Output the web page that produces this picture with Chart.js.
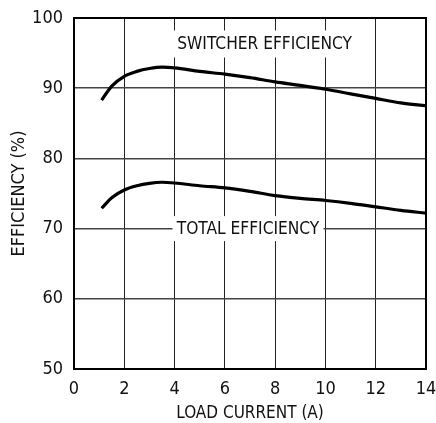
<!DOCTYPE html>
<html>
<head>
<meta charset="utf-8">
<script src="https://cdn.jsdelivr.net/npm/chart.js@4.4.1/dist/chart.umd.min.js"></script>
<style>
  html, body { margin: 0; padding: 0; background: #fff; }
  #wrap { width: 436px; height: 423px; position: relative; }
</style>
</head>
<body>
<div id="wrap"><canvas id="c" width="436" height="423"></canvas></div>
<script>
// ---- data ----
const loadCurrent = [1.1, 1.5, 2, 2.5, 3, 3.5, 4, 5, 6, 7, 8, 9, 10, 11, 12, 13, 14];
const switcherEff = [88.3, 90.3, 91.7, 92.4, 92.8, 93.0, 92.9, 92.4, 92.0, 91.5, 90.9, 90.4, 89.85, 89.2, 88.55, 87.9, 87.5];
const totalEff    = [72.9, 74.4, 75.5, 76.1, 76.45, 76.6, 76.5, 76.1, 75.8, 75.3, 74.7, 74.3, 74.0, 73.6, 73.1, 72.6, 72.2];
const xTicks = [0, 2, 4, 6, 8, 10, 12, 14];
const yTicks = [50, 60, 70, 80, 90, 100];
const curveLabels = ['SWITCHER EFFICIENCY', 'TOTAL EFFICIENCY'];
const xTitle = 'LOAD CURRENT (A)';
const yTitle = 'EFFICIENCY (%)';

// ---- styling / placement ----
const FONT = "'Liberation Sans Narrow', 'DejaVu Sans Condensed', sans-serif";
const labelAnchors = [{x: 7.58, y: 96.3, w: 185, h: 27}, {x: 6.92, y: 70, w: 151, h: 25}];

function toPoints(xs, ys) { return xs.map((x, i) => ({x: x, y: ys[i]})); }

const labelPlugin = {
  id: 'curveLabels',
  beforeDatasetsDraw(chart) {
    const ctx = chart.ctx, xs = chart.scales.x, ys = chart.scales.y;
    ctx.save();
    ctx.font = '17.2px ' + FONT;
    ctx.textAlign = 'center';
    ctx.textBaseline = 'middle';
    curveLabels.forEach((t, i) => {
      const a = labelAnchors[i];
      const px = xs.getPixelForValue(a.x), py = ys.getPixelForValue(a.y);
      ctx.fillStyle = '#fff';
      ctx.fillRect(px - a.w / 2, py - a.h / 2, a.w, a.h);
      ctx.fillStyle = '#111';
      ctx.fillText(t, px, py + 1);
    });
    ctx.restore();
  },
  afterDraw(chart) {
    const ctx = chart.ctx, a = chart.chartArea;
    ctx.save();
    ctx.strokeStyle = '#000';
    ctx.lineWidth = 2;
    ctx.strokeRect(a.left, a.top, a.right - a.left, a.bottom - a.top);
    ctx.restore();
  }
};

new Chart(document.getElementById('c'), {
  type: 'scatter',
  data: {
    datasets: [
      {label: curveLabels[0], data: toPoints(loadCurrent, switcherEff), showLine: true,
       borderColor: '#000', borderWidth: 3.2, pointRadius: 0, cubicInterpolationMode: 'monotone'},
      {label: curveLabels[1], data: toPoints(loadCurrent, totalEff), showLine: true,
       borderColor: '#000', borderWidth: 3.2, pointRadius: 0, cubicInterpolationMode: 'monotone'}
    ]
  },
  plugins: [labelPlugin],
  options: {
    responsive: false,
    animation: false,
    events: [],
    layout: {padding: {top: 18, right: 10, left: 0, bottom: 0}},
    plugins: {legend: {display: false}, tooltip: {enabled: false}},
    scales: {
      x: {
        type: 'linear', min: 0, max: 14,
        afterBuildTicks: s => { s.ticks = xTicks.map(v => ({value: v})); },
        afterFit: s => { s.height = 54; s.paddingLeft = 0; s.paddingRight = 0; },
        grid: {color: '#222', lineWidth: 1, drawTicks: false},
        border: {display: false},
        ticks: {color: '#111', padding: 10, font: {family: FONT, size: 18}, maxRotation: 0},
        title: {display: true, text: xTitle, color: '#111', font: {family: FONT, size: 17, lineHeight: 1}, padding: {top: 0, bottom: 0.5}}
      },
      y: {
        type: 'linear', min: 50, max: 100,
        afterBuildTicks: s => { s.ticks = yTicks.map(v => ({value: v})); },
        afterFit: s => { s.width = 74; s.paddingTop = 0; s.paddingBottom = 0; },
        grid: {color: '#444', lineWidth: 1.5, drawTicks: false},
        border: {display: false},
        ticks: {color: '#111', padding: 11, font: {family: FONT, size: 18}},
        title: {display: true, text: yTitle, color: '#111', font: {family: FONT, size: 18, lineHeight: 1}, padding: {top: 10, bottom: 0}}
      }
    }
  }
});
</script>
</body>
</html>
